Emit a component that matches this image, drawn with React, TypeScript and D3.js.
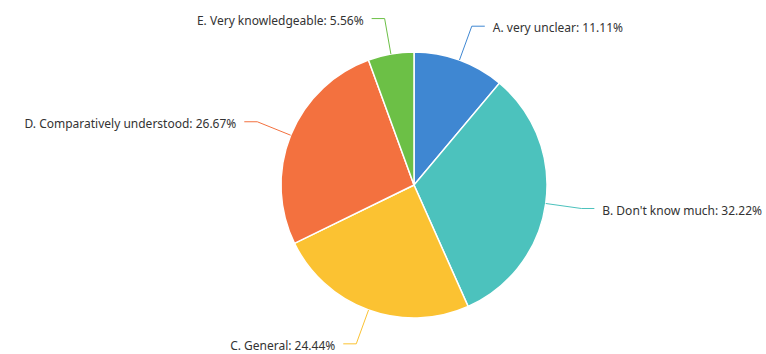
import React from "react";
import * as d3 from "d3";

const categories = [
  "A. very unclear",
  "B. Don't know much",
  "C. General",
  "D. Comparatively understood",
  "E. Very knowledgeable",
];
const values = [11.11, 32.22, 24.44, 26.67, 5.56];
const colors = ["#3f87d2", "#4cc2bd", "#fbc232", "#f3713f", "#6cc046"];

const W = 766;
const H = 354;
const cx = 414;
const cy = 185;
const R = 133;
const len1 = 36;
const len2 = 13;
const gap = 8;

export default function App() {
  const data = categories.map((c, i) => ({ name: c, value: values[i], color: colors[i] }));
  const pie = d3.pie<any>().sort(null).value((d) => d.value);
  const arcs = pie(data);
  const arcGen = d3.arc<any>().innerRadius(0).outerRadius(R);

  return (
    <svg width={W} height={H} style={{ position: "absolute", left: 0, top: 0, background: "#fff" }}>
      <g transform={`translate(${cx},${cy})`}>
        {arcs.map((a, i) => (
          <path key={i} d={arcGen(a) as string} fill={a.data.color} stroke="#fff" strokeWidth={1.5} />
        ))}
        {arcs.map((a, i) => {
          const mid = (a.startAngle + a.endAngle) / 2;
          const sx = Math.sin(mid);
          const sy = -Math.cos(mid);
          const p0 = [sx * R, sy * R];
          const p1 = [sx * (R + len1), sy * (R + len1)];
          const right = sx >= 0;
          const p2 = [p1[0] + (right ? len2 : -len2), p1[1]];
          const tx = p2[0] + (right ? gap : -gap);
          return (
            <g key={"l" + i}>
              <polyline
                points={`${p0[0]},${p0[1]} ${p1[0]},${p1[1]} ${p2[0]},${p2[1]}`}
                fill="none"
                stroke={a.data.color}
                strokeWidth={1}
              />
              <text
                x={tx}
                y={p2[1] + 2}
                dy="0.35em"
                textAnchor={right ? "start" : "end"}
                fontFamily="'Noto Sans', sans-serif"
                fontSize={12}
                fill="#333"
              >
                {`${a.data.name}: ${a.data.value.toFixed(2)}%`}
              </text>
            </g>
          );
        })}
      </g>
    </svg>
  );
}
